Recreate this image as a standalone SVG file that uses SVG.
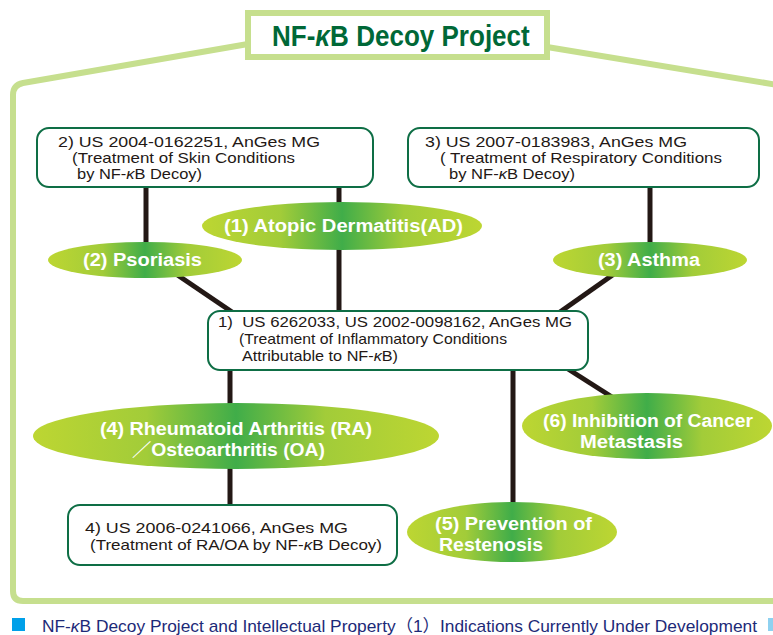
<svg xmlns="http://www.w3.org/2000/svg" width="773" height="635" viewBox="0 0 773 635">
  <defs>
    <linearGradient id="leaf" x1="0" y1="0" x2="1" y2="0">
      <stop offset="0" stop-color="#bdd632"/>
      <stop offset="0.28" stop-color="#a2cc39"/>
      <stop offset="0.5" stop-color="#40ad49"/>
      <stop offset="0.72" stop-color="#a2cc39"/>
      <stop offset="1" stop-color="#bdd632"/>
    </linearGradient>
    <style>
      .frame { fill: none; stroke: #c6df8e; stroke-width: 6; stroke-linejoin: round; }
      .wire { stroke: #231815; stroke-width: 5; fill: none; }
      .box { fill: #ffffff; stroke: #0e6e45; stroke-width: 2; }
      .oval { fill: url(#leaf); }
      .btxt { font-family: "Liberation Sans", "DejaVu Sans", sans-serif; font-size: 15px; fill: #231815; }
      .otxt { font-family: "Liberation Sans", "Noto Sans CJK JP", sans-serif; font-size: 18px; font-weight: bold; fill: #ffffff; }
      .k { font-style: italic; }
    </style>
  </defs>

  <rect width="773" height="635" fill="#ffffff"/>

  <!-- outer project frame -->
  <g id="frame">
    <path class="frame" d="M248,44 L23,83 Q13,85 13,95 L13,591 Q13,601 23,601 L790,601"/>
    <path class="frame" d="M547,47 L790,87"/>
  </g>

  <!-- title -->
  <g id="title">
    <rect x="248" y="13" width="299" height="44" fill="#ffffff" stroke="#c6df8e" stroke-width="6"/>
    <text transform="translate(272,46) scale(0.868,1)" x="0" y="0" font-family="Liberation Sans, sans-serif" font-size="30" font-weight="bold" fill="#006837">NF-<tspan class="k">κ</tspan>B Decoy Project</text>
  </g>

  <!-- connectors -->
  <g id="connectors">
    <line class="wire" x1="146" y1="187" x2="146" y2="245"/>
    <line class="wire" x1="339" y1="187" x2="339" y2="311"/>
    <line class="wire" x1="650" y1="187" x2="650" y2="245"/>
    <line class="wire" x1="176" y1="274" x2="232" y2="312"/>
    <line class="wire" x1="614" y1="274" x2="560" y2="312"/>
    <line class="wire" x1="230" y1="370" x2="230" y2="505"/>
    <line class="wire" x1="513" y1="370" x2="513" y2="504"/>
    <line class="wire" x1="568" y1="369" x2="612" y2="397"/>
  </g>

  <!-- patent boxes -->
  <g id="patent-2">
    <rect class="box" x="37" y="128" width="336" height="59" rx="12"/>
    <text class="btxt" x="58" y="147" textLength="262" lengthAdjust="spacingAndGlyphs">2) US 2004-0162251, AnGes MG</text>
    <text class="btxt" x="72" y="163" textLength="223" lengthAdjust="spacingAndGlyphs">(Treatment of Skin Conditions</text>
    <text class="btxt" x="77" y="179" textLength="125" lengthAdjust="spacingAndGlyphs">by NF-<tspan class="k">κ</tspan>B Decoy)</text>
  </g>

  <g id="patent-3">
    <rect class="box" x="408" y="128" width="351" height="59" rx="12"/>
    <text class="btxt" x="425" y="147" textLength="262" lengthAdjust="spacingAndGlyphs">3) US 2007-0183983, AnGes MG</text>
    <text class="btxt" x="440" y="163" textLength="282" lengthAdjust="spacingAndGlyphs">( Treatment of Respiratory Conditions</text>
    <text class="btxt" x="449" y="179" textLength="126" lengthAdjust="spacingAndGlyphs">by NF-<tspan class="k">κ</tspan>B Decoy)</text>
  </g>

  <g id="patent-1">
    <rect class="box" x="208" y="311" width="380" height="59" rx="12"/>
    <text class="btxt" x="218" y="327" textLength="354" lengthAdjust="spacingAndGlyphs">1)&#160; US 6262033, US 2002-0098162, AnGes MG</text>
    <text class="btxt" x="239" y="344" textLength="268" lengthAdjust="spacingAndGlyphs">(Treatment of Inflammatory Conditions</text>
    <text class="btxt" x="242" y="361" textLength="156" lengthAdjust="spacingAndGlyphs">Attributable to NF-<tspan class="k">κ</tspan>B)</text>
  </g>

  <g id="patent-4">
    <rect class="box" x="68" y="505" width="329" height="60" rx="12"/>
    <text class="btxt" x="85" y="533" textLength="263" lengthAdjust="spacingAndGlyphs">4) US 2006-0241066, AnGes MG</text>
    <text class="btxt" x="90" y="550" textLength="292" lengthAdjust="spacingAndGlyphs">(Treatment of RA/OA by NF-<tspan class="k">κ</tspan>B Decoy)</text>
  </g>

  <!-- indications -->
  <g id="ind-1">
    <ellipse class="oval" cx="342" cy="226" rx="140" ry="24"/>
    <text class="otxt" x="224" y="232" textLength="239" lengthAdjust="spacingAndGlyphs">(1) Atopic Dermatitis(AD)</text>
  </g>

  <g id="ind-2">
    <ellipse class="oval" cx="145" cy="260" rx="97" ry="18"/>
    <text class="otxt" x="83" y="266" textLength="119" lengthAdjust="spacingAndGlyphs">(2) Psoriasis</text>
  </g>

  <g id="ind-3">
    <ellipse class="oval" cx="650" cy="260" rx="97" ry="18"/>
    <text class="otxt" x="598" y="266" textLength="102" lengthAdjust="spacingAndGlyphs">(3) Asthma</text>
  </g>

  <g id="ind-4">
    <ellipse class="oval" cx="236" cy="436" rx="203" ry="33"/>
    <text class="otxt" x="100" y="435" textLength="272" lengthAdjust="spacingAndGlyphs">(4) Rheumatoid Arthritis (RA)</text>
    <text class="otxt" x="132" y="456" textLength="193" lengthAdjust="spacingAndGlyphs">／Osteoarthritis (OA)</text>
  </g>

  <g id="ind-5">
    <ellipse class="oval" cx="512" cy="532" rx="105" ry="30"/>
    <text class="otxt" x="435" y="530" textLength="157" lengthAdjust="spacingAndGlyphs">(5) Prevention of</text>
    <text class="otxt" x="439" y="551" textLength="104" lengthAdjust="spacingAndGlyphs">Restenosis</text>
  </g>

  <g id="ind-6">
    <ellipse class="oval" cx="647" cy="426" rx="125" ry="33"/>
    <text class="otxt" x="543" y="427" textLength="210" lengthAdjust="spacingAndGlyphs">(6) Inhibition of Cancer</text>
    <text class="otxt" x="580" y="448" textLength="103" lengthAdjust="spacingAndGlyphs">Metastasis</text>
  </g>

  <!-- caption -->
  <g id="caption">
    <rect x="12" y="618" width="13" height="13" fill="#00a0e9"/>
    <text x="42" y="632" font-family="Liberation Sans, Noto Sans CJK JP, sans-serif" font-size="17" fill="#1d2a78" textLength="715" lengthAdjust="spacingAndGlyphs">NF-<tspan class="k">κ</tspan>B Decoy Project and Intellectual Property（1）Indications Currently Under Development</text>
    <rect x="768" y="618" width="13" height="13" fill="#8ed1f0"/>
  </g>
</svg>
